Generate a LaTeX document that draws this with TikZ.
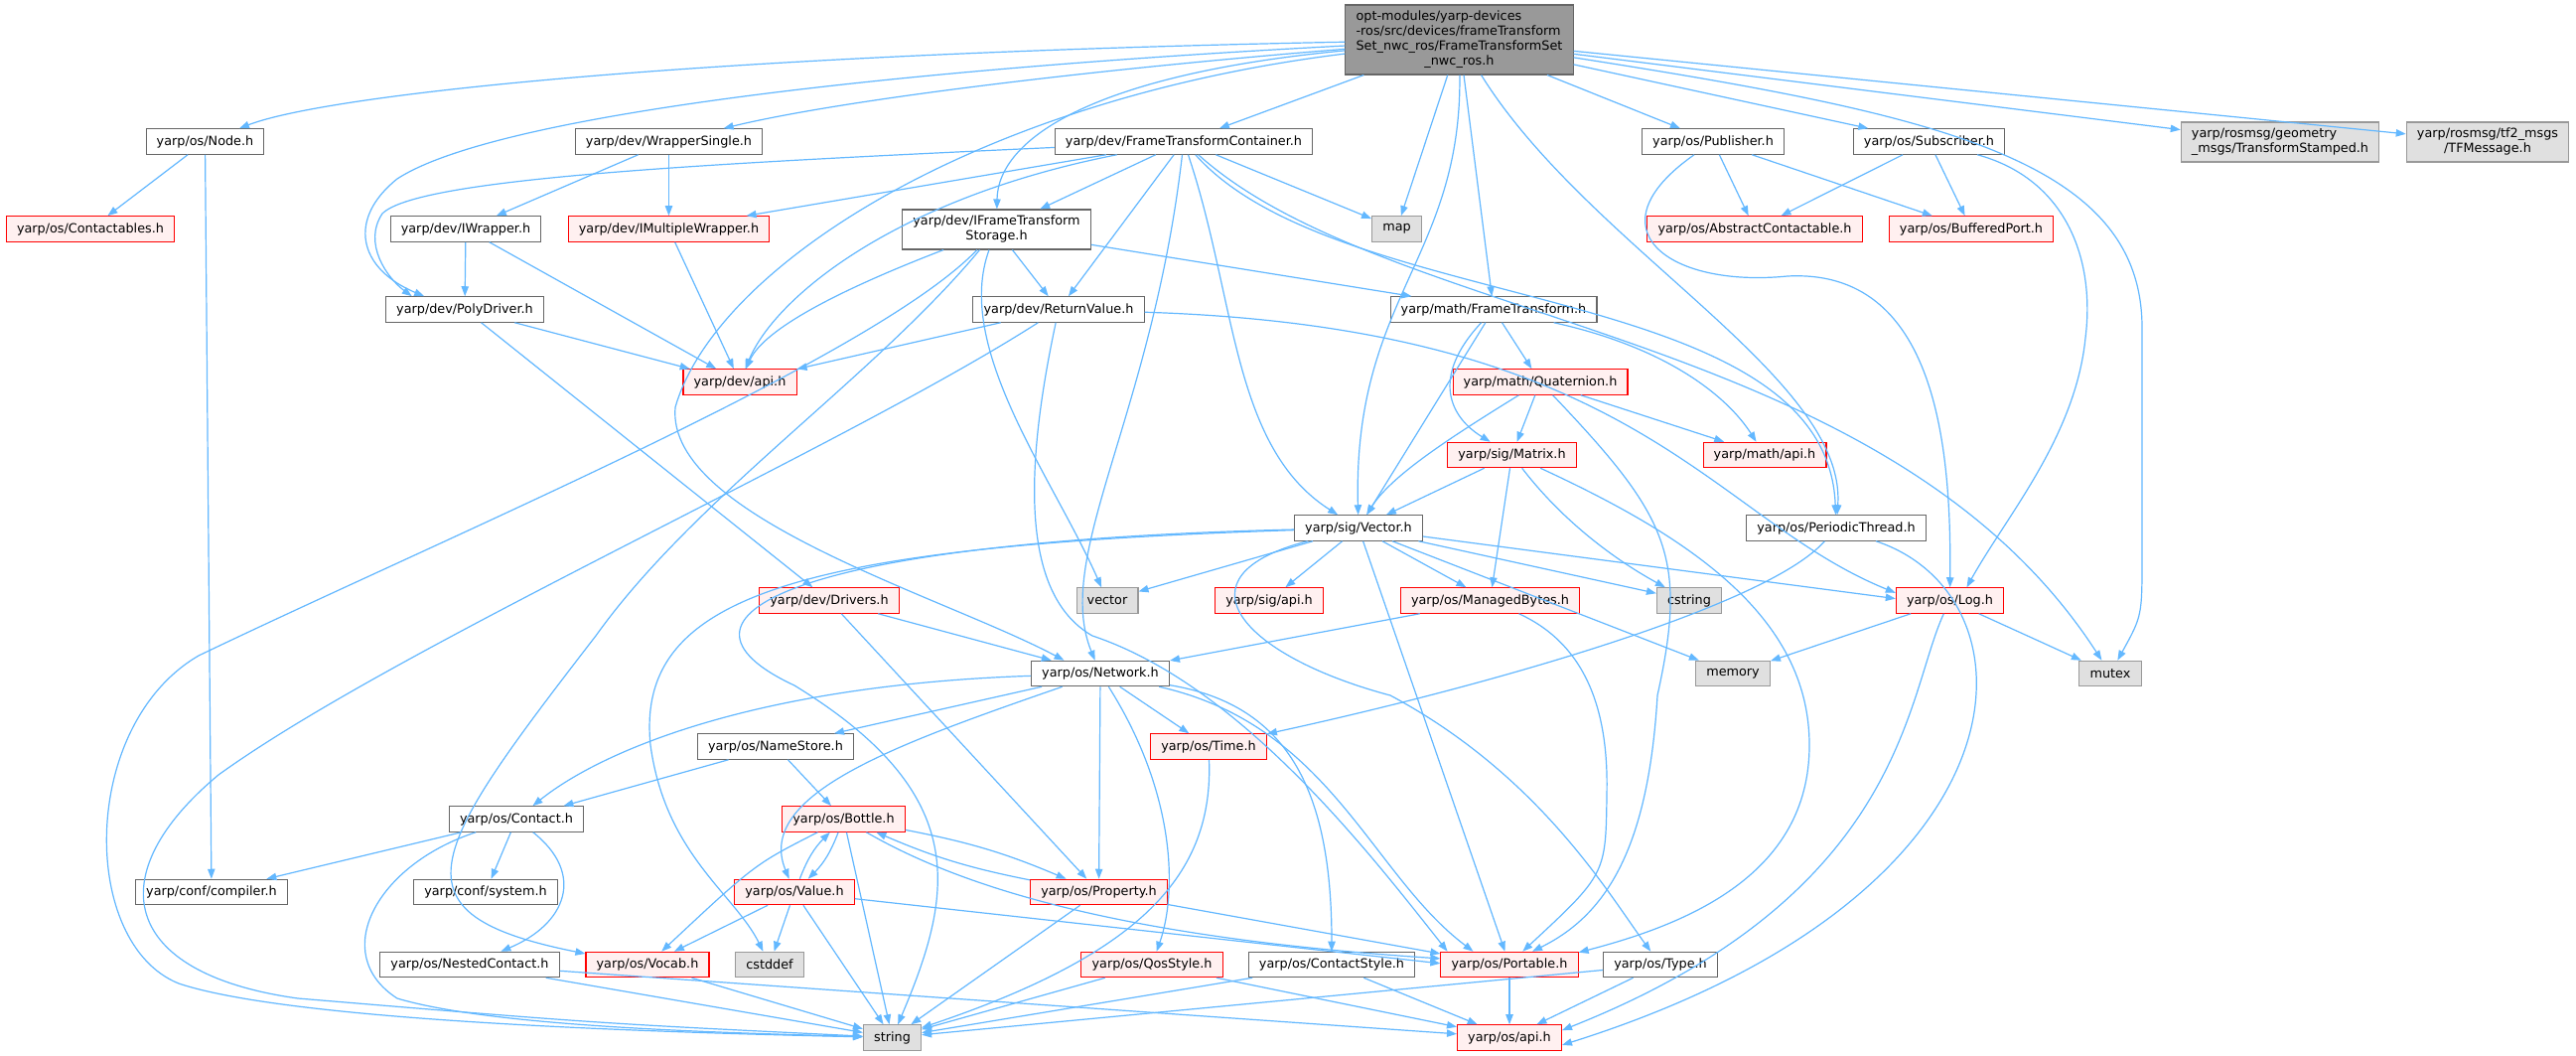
\documentclass[tikz,border=0pt]{standalone}
\usepackage{fontspec}
\setmainfont{DejaVu Sans}
\usetikzlibrary{arrows.meta}

\definecolor{edgeblue}{HTML}{63B8FF}
\definecolor{nodeline}{HTML}{666666}
\definecolor{extline}{HTML}{999999}
\definecolor{extfill}{HTML}{E0E0E0}
\definecolor{mainfill}{HTML}{999999}
\definecolor{redline}{HTML}{FF0000}
\definecolor{redfill}{HTML}{FFF0F0}

\begin{document}
\begin{tikzpicture}[%
    >={Triangle[length=7.5pt,width=5.5pt]}, % Doxygen-like arrows
    x=0.75pt, y=-0.75pt,                    % one unit is one pixel, y going down
    ]

\def\lastc#1{\multicolumn{1}{@{}c@{}}{#1}}

\tikzset{
  base/.style={draw=nodeline, fill=white, line width=0.8pt, inner xsep=8pt, inner ysep=3.75pt,
               minimum height=19.1pt, font=\fontsize{9.6}{11.25}\selectfont},
  trunc/.style={base, draw=redline, fill=redfill},
  ext/.style={base, draw=extline, fill=extfill},
  top/.style={base, draw=nodeline, fill=mainfill},
  dep/.style={draw=edgeblue, line width=0.9pt, ->}
  };

\useasboundingbox[fill=white] (0,0) rectangle (2594,1063);

% MAIN header
\node[top] (main) at (1469.5,40) {\begin{tabular}{@{}l@{}}opt-modules/yarp-devices\\-ros/src/devices/frameTransform\\Set\_nwc\_ros/FrameTransformSet\\\lastc{\_nwc\_ros.h}\end{tabular}};

% first level
\node[base] (osNode) at (206.5,142.5) {yarp/os/Node.h};
\node[base] (wrapperSingle) at (673.5,142.5) {yarp/dev/WrapperSingle.h};
\node[base] (ftContainer) at (1192,142.5) {yarp/dev/FrameTransformContainer.h};
\node[base] (publisher) at (1725,142.5) {yarp/os/Publisher.h};
\node[base] (subscriber) at (1942.5,142.5) {yarp/os/Subscriber.h};
\node[ext] (tfStamped) at (2296,143) {\begin{tabular}{@{}l@{}}yarp/rosmsg/geometry\\\lastc{\_msgs/TransformStamped.h}\end{tabular}};
\node[ext] (tfMessage) at (2505,143) {\begin{tabular}{@{}l@{}}yarp/rosmsg/tf2\_msgs\\\lastc{/TFMessage.h}\end{tabular}};

% dev headers
\node[trunc] (contactables) at (91,230.5) {yarp/os/Contactables.h};
\node[base] (iWrapper) at (469,230.5) {yarp/dev/IWrapper.h};
\node[trunc] (iMultiWrapper) at (673.5,230.5) {yarp/dev/IMultipleWrapper.h};
\node[base] (ftStorage) at (1003.5,231) {\begin{tabular}{@{}l@{}}yarp/dev/IFrameTransform\\\lastc{Storage.h}\end{tabular}};
\node[ext] (map) at (1406.5,230.5) {map};
\node[trunc] (abstractContactable) at (1767,230.5) {yarp/os/AbstractContactable.h};
\node[trunc] (bufferedPort) at (1985,230.5) {yarp/os/BufferedPort.h};
\node[base] (polyDriver) at (468,311.5) {yarp/dev/PolyDriver.h};
\node[base] (returnValue) at (1066,311.5) {yarp/dev/ReturnValue.h};
\node[base] (mathFT) at (1504,311.5) {yarp/math/FrameTransform.h};
\node[trunc] (devApi) at (745,384.5) {yarp/dev/api.h};
\node[trunc] (quaternion) at (1551,384.5) {yarp/math/Quaternion.h};
\node[trunc] (matrix) at (1522.5,458) {yarp/sig/Matrix.h};
\node[trunc] (mathApi) at (1777,458) {yarp/math/api.h};

% sig and os headers
\node[base] (sigVector) at (1368,531.5) {yarp/sig/Vector.h};
\node[base] (periodicThread) at (1849,531.5) {yarp/os/PeriodicThread.h};
\node[trunc] (drivers) at (835,604.5) {yarp/dev/Drivers.h};
\node[ext] (vector) at (1115,604.5) {vector};
\node[trunc] (sigApi) at (1278,604.5) {yarp/sig/api.h};
\node[trunc] (managedBytes) at (1500.5,604.5) {yarp/os/ManagedBytes.h};
\node[ext] (cstring) at (1701,604.5) {cstring};
\node[trunc] (osLog) at (1963.5,604.5) {yarp/os/Log.h};
\node[base] (network) at (1108,678) {yarp/os/Network.h};
\node[ext] (memory) at (1745,678) {memory};
\node[ext] (mutex) at (2125,678) {mutex};
\node[base] (nameStore) at (781,751.5) {yarp/os/NameStore.h};
\node[trunc] (osTime) at (1217,751.5) {yarp/os/Time.h};
\node[base] (contact) at (520,824.5) {yarp/os/Contact.h};
\node[trunc] (bottle) at (849.5,824.5) {yarp/os/Bottle.h};
\node[base] (compiler) at (213,898) {yarp/conf/compiler.h};
\node[base] (confSystem) at (489,898) {yarp/conf/system.h};
\node[trunc] (value) at (800,898) {yarp/os/Value.h};
\node[trunc] (property) at (1106.5,898) {yarp/os/Property.h};
\node[base] (nestedContact) at (473,971) {yarp/os/NestedContact.h};
\node[trunc] (vocab) at (652,971) {yarp/os/Vocab.h};
\node[ext] (cstddef) at (775,971) {cstddef};
\node[trunc] (qosStyle) at (1160,971) {yarp/os/QosStyle.h};
\node[base] (contactStyle) at (1341,971) {yarp/os/ContactStyle.h};
\node[trunc] (portable) at (1520,971) {yarp/os/Portable.h};
\node[base] (osType) at (1672,971) {yarp/os/Type.h};
\node[ext] (string) at (898.5,1044.5) {string};
\node[trunc] (osApi) at (1520,1044.5) {yarp/os/api.h};

% includes of the main header
\draw[dep] (main) .. controls (700,55) and (330,95) .. (osNode);
\draw[dep] (main) .. controls (1100,70) and (850,100) .. (wrapperSingle);
\draw[dep] (main) .. controls (900,70) and (500,115) .. (400,180) .. controls (350,220) and (360,270) .. (polyDriver.162);
\draw[dep] (main) .. controls (980,100) and (720,270) .. (680,410) .. controls (670,520) and (950,600) .. (network.160);
\draw[dep] (main) .. controls (1100,75) and (1005,140) .. (ftStorage);
\draw (main) edge[dep] (ftContainer);
\draw (main) edge[dep] (map);
\draw (main) edge[dep] (mathFT);
\draw[dep] (main) .. controls (1472,260) and (1362,300) .. (sigVector);
\draw[dep] (main) .. controls (1600,250) and (1860,380) .. (periodicThread);
\draw (main) edge[dep] (publisher);
\draw (main) edge[dep] (subscriber);
\draw[dep] (main) .. controls (1950,115) and (2157,160) .. (2157,330) -- (2157,560) .. controls (2157,620) .. (mutex);
\draw (main) edge[dep] (tfStamped);
\draw (main) edge[dep] (tfMessage);

% dev side
\draw (osNode) edge[dep] (contactables);
\draw (osNode) edge[dep] (compiler);
\draw (wrapperSingle) edge[dep] (iWrapper);
\draw (wrapperSingle) edge[dep] (iMultiWrapper);
\draw (iWrapper) edge[dep] (polyDriver);
\draw (iWrapper) edge[dep] (devApi);
\draw (iMultiWrapper) edge[dep] (devApi);
\draw (polyDriver) edge[dep] (devApi);
\draw (polyDriver) edge[dep] (drivers);

\draw[dep] (ftContainer) .. controls (700,165) and (420,180) .. (385,215) .. controls (365,245) and (390,280) .. (polyDriver.166);
\draw (ftContainer) edge[dep] (iMultiWrapper);
\draw[dep] (ftContainer) .. controls (900,200) and (780,300) .. (devApi);
\draw (ftContainer) edge[dep] (ftStorage);
\draw (ftContainer) edge[dep] (returnValue);
\draw[dep] (ftContainer) .. controls (1160,420) and (1060,560) .. (network);
\draw[dep] (ftContainer) .. controls (1245,300) and (1240,450) .. (sigVector);
\draw (ftContainer) edge[dep] (map);
\draw[dep] (ftContainer) .. controls (1350,320) and (1840,280) .. (periodicThread);
\draw[dep] (ftContainer) .. controls (1400,330) and (1900,330) .. (mutex);

\draw[dep] (ftStorage) .. controls (850,290) and (770,330) .. (devApi);
\draw (ftStorage) edge[dep] (returnValue);
\draw (ftStorage) edge[dep] (mathFT);
\draw[dep] (ftStorage) .. controls (960,350) and (1060,480) .. (vector);
\draw[dep] (ftStorage) .. controls (880,360) and (450,540) .. (200,660) .. controls (80,730) and (80,950) .. (180,990) .. controls (300,1030) and (700,1040) .. (string);
\draw[dep] (ftStorage) .. controls (880,380) and (700,500) .. (600,640) .. controls (430,860) and (390,920) .. (vocab.170);

\draw (returnValue) edge[dep] (devApi);
\draw[dep] (returnValue) .. controls (850,450) and (400,650) .. (220,780) .. controls (100,880) and (120,980) .. (300,1005) .. controls (600,1030) .. (string);
\draw[dep] (returnValue) .. controls (1030,480) and (1030,600) .. (1100,640) .. controls (1250,690) and (1380,860) .. (portable.168);
\draw[dep] (returnValue) .. controls (1650,330) and (1720,520) .. (osLog.172);

% sig and math
\draw (sigVector) edge[dep] (vector);
\draw (sigVector) edge[dep] (sigApi);
\draw (sigVector) edge[dep] (managedBytes);
\draw (sigVector) edge[dep] (cstring);
\draw (sigVector) edge[dep] (memory);
\draw (sigVector) edge[dep] (osLog.178);
\draw (sigVector) edge[dep] (portable);
\draw[dep] (sigVector) .. controls (1180,580) and (1250,660) .. (1400,700) .. controls (1550,780) and (1620,900) .. (osType);
\draw[dep] (sigVector) .. controls (800,550) and (640,600) .. (655,750) .. controls (670,860) and (740,900) .. (cstddef);
\draw[dep] (sigVector) .. controls (800,545) and (650,620) .. (800,690) .. controls (980,800) and (960,900) .. (string);

\draw (matrix) edge[dep] (sigVector);
\draw (matrix) edge[dep] (managedBytes);
\draw[dep] (matrix) .. controls (1570,520) and (1620,560) .. (cstring);
\draw[dep] (matrix) .. controls (1700,540) and (1822,620) .. (1822,750) .. controls (1822,880) and (1700,930) .. (portable.10);

\draw[dep] (quaternion) .. controls (1456,443) and (1400,480) .. (sigVector);
\draw (quaternion) edge[dep] (matrix);
\draw (quaternion) edge[dep] (mathApi);
\draw[dep] (quaternion) .. controls (1680,520) and (1700,560) .. (1669,700) .. controls (1660,850) and (1620,920) .. (portable.30);

\draw (mathFT) edge[dep] (sigVector);
\draw (mathFT) edge[dep] (quaternion);
\draw[dep] (mathFT) .. controls (1440,380) and (1460,420) .. (matrix);
\draw[dep] (mathFT) .. controls (1680,350) and (1740,400) .. (mathApi);

\draw (managedBytes) edge[dep] (network);
\draw[dep] (managedBytes) .. controls (1600,650) and (1620,720) .. (1618,800) .. controls (1617,880) .. (portable.45);

\draw (drivers) edge[dep] (network);
\draw (drivers) edge[dep] (property);

% os side
\draw[dep] (network) .. controls (750,690) and (600,760) .. (contact);
\draw (network) edge[dep] (nameStore);
\draw[dep] (network) .. controls (900,750) and (760,800) .. (value);
\draw (network) edge[dep] (property);
\draw[dep] (network) .. controls (1185,800) and (1185,900) .. (qosStyle);
\draw (network) edge[dep] (osTime);
\draw[dep] (network) .. controls (1300,710) and (1341,800) .. (contactStyle);
\draw[dep] (network) .. controls (1340,730) and (1380,880) .. (portable.160);

\draw (nameStore) edge[dep] (contact);
\draw (nameStore) edge[dep] (bottle);

\draw (contact) edge[dep] (compiler);
\draw (contact) edge[dep] (confSystem);
\draw[dep] (contact) .. controls (590,880) and (570,930) .. (nestedContact);
\draw[dep] (contact) .. controls (380,870) and (330,960) .. (400,1005) .. controls (500,1035) and (750,1040) .. (string);

\draw (nestedContact) edge[dep] (string);
\draw (nestedContact) edge[dep] (osApi);

\draw[dep] (bottle) .. controls (760,870) .. (vocab);
\draw (bottle) edge[dep, bend left=12] (value);
\draw (value) edge[dep, bend left=12] (bottle);
\draw (bottle) edge[dep, bend left=6] (property);
\draw (property) edge[dep, bend left=6] (bottle);
\draw (bottle) edge[dep] (string);
\draw[dep] (bottle) .. controls (980,900) and (1150,945) .. (portable.175);

\draw (value) edge[dep] (vocab);
\draw (value) edge[dep] (cstddef);
\draw (value) edge[dep] (string);
\draw (value) edge[dep] (portable.179);

\draw (property) edge[dep] (string);
\draw (property) edge[dep] (portable.171);

\draw[dep] (osTime) .. controls (1222,880) and (1150,960) .. (string);
\draw (qosStyle) edge[dep] (string);
\draw (qosStyle) edge[dep] (osApi);
\draw (contactStyle) edge[dep] (string);
\draw (contactStyle) edge[dep] (osApi);
\draw (portable) edge[dep] (osApi);
\draw (osType) edge[dep] (osApi);
\draw (osType) edge[dep] (string);
\draw (vocab) edge[dep] (string);

\draw (osLog) edge[dep] (memory);
\draw (osLog) edge[dep] (mutex);
\draw[dep] (osLog) .. controls (1919,700) and (1919,900) .. (osApi.8);

\draw[dep] (periodicThread) .. controls (1780,610) and (1500,690) .. (osTime);
\draw[dep] (periodicThread) .. controls (2056,600) and (2056,900) .. (osApi.352);

\draw (publisher) edge[dep] (abstractContactable);
\draw (publisher) edge[dep] (bufferedPort);
\draw[dep] (publisher) .. controls (1600,230) and (1680,290) .. (1800,278) .. controls (1950,270) and (1965,450) .. (osLog);

\draw (subscriber) edge[dep] (abstractContactable);
\draw (subscriber) edge[dep] (bufferedPort);
\draw[dep] (subscriber) .. controls (2080,180) and (2110,260) .. (2100,340) .. controls (2090,440) and (2020,520) .. (osLog.38);

\end{tikzpicture}
\end{document}
